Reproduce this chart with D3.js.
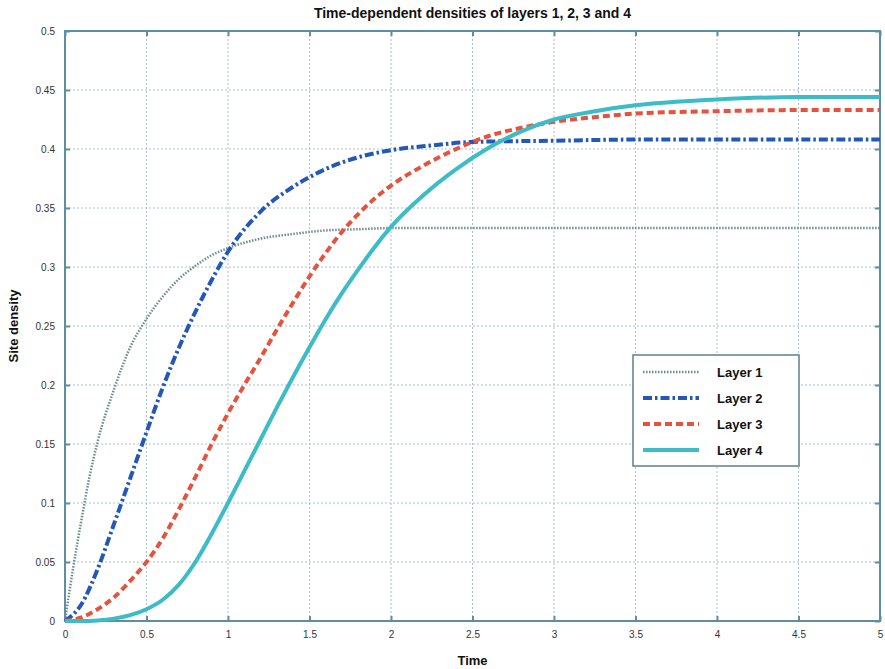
<!DOCTYPE html>
<html>
<head>
<meta charset="utf-8">
<script src="https://cdn.jsdelivr.net/npm/d3@7"></script>
<style>
  body { margin: 0; background: #fff; }
  text { font-family: "Liberation Sans", Arial, sans-serif; }
</style>
</head>
<body>
<div id="container"></div>
<script>
/* DATA */
const times1 = [0, 0.05, 0.1, 0.15, 0.2, 0.3, 0.4, 0.5, 0.6, 0.7, 0.8, 0.9, 1.0, 1.2, 1.4, 1.6, 1.8, 2.0, 2.5, 3, 3.5, 4, 4.5, 5];
const layer1 = [0, 0.045, 0.085, 0.122, 0.152, 0.196, 0.232, 0.256, 0.275, 0.29, 0.301, 0.31, 0.316, 0.324, 0.328, 0.331, 0.332, 0.333, 0.333, 0.333, 0.333, 0.333, 0.333, 0.333];

const times2 = [0, 0.1, 0.2, 0.3, 0.4, 0.5, 0.6, 0.7, 0.8, 0.9, 1.0, 1.2, 1.4, 1.6, 1.8, 2.0, 2.25, 2.5, 3, 3.5, 4, 4.5, 5];
const layer2 = [0, 0.014, 0.044, 0.082, 0.121, 0.16, 0.198, 0.232, 0.262, 0.289, 0.313, 0.347, 0.368, 0.383, 0.393, 0.399, 0.403, 0.406, 0.407, 0.408, 0.408, 0.408, 0.408];

const times3 = [0, 0.1, 0.2, 0.3, 0.4, 0.5, 0.6, 0.7, 0.8, 0.9, 1.0, 1.1, 1.2, 1.3, 1.4, 1.5, 1.6, 1.7, 1.8, 1.9, 2.0, 2.2, 2.4, 2.6, 2.8, 3.0, 3.25, 3.5, 4, 4.5, 5];
const layer3 = [0, 0.003, 0.01, 0.02, 0.034, 0.05, 0.07, 0.095, 0.122, 0.15, 0.176, 0.2, 0.223, 0.247, 0.27, 0.292, 0.312, 0.33, 0.345, 0.358, 0.369, 0.386, 0.4, 0.411, 0.418, 0.423, 0.427, 0.43, 0.432, 0.433, 0.433];

const times4 = [0, 0.1, 0.2, 0.3, 0.4, 0.5, 0.6, 0.7, 0.8, 0.9, 1.0, 1.1, 1.2, 1.3, 1.4, 1.5, 1.6, 1.7, 1.8, 1.9, 2.0, 2.2, 2.4, 2.6, 2.8, 3.0, 3.25, 3.5, 3.75, 4, 4.5, 5];
const layer4 = [0, 0, 0.0005, 0.002, 0.005, 0.01, 0.018, 0.031, 0.05, 0.074, 0.1, 0.127, 0.154, 0.181, 0.207, 0.232, 0.256, 0.278, 0.298, 0.317, 0.334, 0.361, 0.383, 0.401, 0.415, 0.425, 0.432, 0.437, 0.44, 0.442, 0.444, 0.444];

const xTicks = [0, 0.5, 1, 1.5, 2, 2.5, 3, 3.5, 4, 4.5, 5];
const yTicks = [0, 0.05, 0.1, 0.15, 0.2, 0.25, 0.3, 0.35, 0.4, 0.45, 0.5];
const legendNames = ["Layer 1", "Layer 2", "Layer 3", "Layer 4"];

/* CONSTANTS */
const W = 885, H = 669;
const margin = {top: 31, right: 5, bottom: 48, left: 65},
    width = W - margin.left - margin.right,
    height = H - margin.top - margin.bottom;

const styles = [
  {color: "#6a8c8c", width: 2.5, dash: "1.5,1.5"},
  {color: "#2358b8", width: 4, dash: "9,3,2.5,3"},
  {color: "#e5533f", width: 4, dash: "7,4"},
  {color: "#3bbcc6", width: 4, dash: null}
];

/* SCALES */
const x = d3.scaleLinear().domain([0, 5]).range([0, width]);
const y = d3.scaleLinear().domain([0, 0.5]).range([height, 0]);

const svg = d3.select("#container").append("svg")
    .attr("width", W)
    .attr("height", H)
  .append("g")
    .attr("transform", "translate(" + margin.left + "," + margin.top + ")");

/* GRID */
const grid = svg.append("g").attr("stroke", "#a9c2cf").attr("stroke-width", 1).attr("stroke-dasharray", "2,2");
xTicks.slice(1, -1).forEach(t => {
  grid.append("line").attr("x1", x(t)).attr("x2", x(t)).attr("y1", 0).attr("y2", height);
});
yTicks.slice(1, -1).forEach(t => {
  grid.append("line").attr("x1", 0).attr("x2", width).attr("y1", y(t)).attr("y2", y(t));
});

/* AXES (ticks inside, MATLAB style) */
const fmt = d => d === 0 ? "0" : String(d);
svg.append("g")
    .attr("transform", "translate(0," + height + ")")
    .call(d3.axisBottom(x).tickValues(xTicks).tickFormat(fmt).tickSizeInner(-5).tickSizeOuter(0).tickPadding(10))
    .call(g => g.select(".domain").remove());
svg.append("g")
    .call(d3.axisTop(x).tickValues(xTicks).tickFormat("").tickSizeInner(-5).tickSizeOuter(0))
    .call(g => g.select(".domain").remove());
svg.append("g")
    .call(d3.axisLeft(y).tickValues(yTicks).tickFormat(fmt).tickSizeInner(-5).tickSizeOuter(0).tickPadding(10))
    .call(g => g.select(".domain").remove());
svg.append("g")
    .attr("transform", "translate(" + width + ",0)")
    .call(d3.axisRight(y).tickValues(yTicks).tickFormat("").tickSizeInner(-5).tickSizeOuter(0))
    .call(g => g.select(".domain").remove());

svg.selectAll(".tick line").attr("stroke", "#5f8ea3").attr("stroke-width", 2);
svg.selectAll(".tick text").attr("fill", "#333").style("font-size", "10px");

/* BOX */
svg.append("rect")
    .attr("width", width).attr("height", height)
    .attr("fill", "none").attr("stroke", "#5f8ea3").attr("stroke-width", 2);

/* LINES */
const line = d3.line()
    .x(d => x(d[0]))
    .y(d => y(d[1]))
    .curve(d3.curveMonotoneX);

const series = [
  d3.zip(times1, layer1),
  d3.zip(times2, layer2),
  d3.zip(times3, layer3),
  d3.zip(times4, layer4)
];

series.forEach((s, i) => {
  svg.append("path")
      .datum(s)
      .attr("fill", "none")
      .attr("stroke", styles[i].color)
      .attr("stroke-width", styles[i].width)
      .attr("stroke-dasharray", styles[i].dash)
      .attr("d", line);
});

/* LEGEND */
const lg = svg.append("g").attr("transform", "translate(" + (633 - margin.left) + "," + (355 - margin.top) + ")");
lg.append("rect")
    .attr("width", 166).attr("height", 111)
    .attr("fill", "#fff").attr("stroke", "#5f7f8f").attr("stroke-width", 1.5);
legendNames.forEach((n, i) => {
  const yy = 17 + i * 26;
  lg.append("line")
      .attr("x1", 10).attr("x2", 66).attr("y1", yy).attr("y2", yy)
      .attr("stroke", styles[i].color)
      .attr("stroke-width", styles[i].width)
      .attr("stroke-dasharray", styles[i].dash);
  lg.append("text")
      .attr("x", 84).attr("y", yy + 5)
      .style("font-size", "13px").style("font-weight", "bold")
      .attr("fill", "#111")
      .text(n);
});

/* TITLE AND LABELS */
svg.append("text")
    .attr("x", width / 2).attr("y", -13)
    .style("text-anchor", "middle").style("font-size", "14px").style("font-weight", "bold")
    .attr("fill", "#111")
    .text("Time-dependent densities of layers 1, 2, 3 and 4");

svg.append("text")
    .attr("x", width / 2).attr("y", height + 44)
    .style("text-anchor", "middle").style("font-size", "13px").style("font-weight", "bold")
    .attr("fill", "#111")
    .text("Time");

svg.append("text")
    .attr("transform", "rotate(-90)")
    .attr("x", -(height / 2)).attr("y", -47)
    .style("text-anchor", "middle").style("font-size", "13px").style("font-weight", "bold")
    .attr("fill", "#111")
    .text("Site density");
</script>
</body>
</html>
